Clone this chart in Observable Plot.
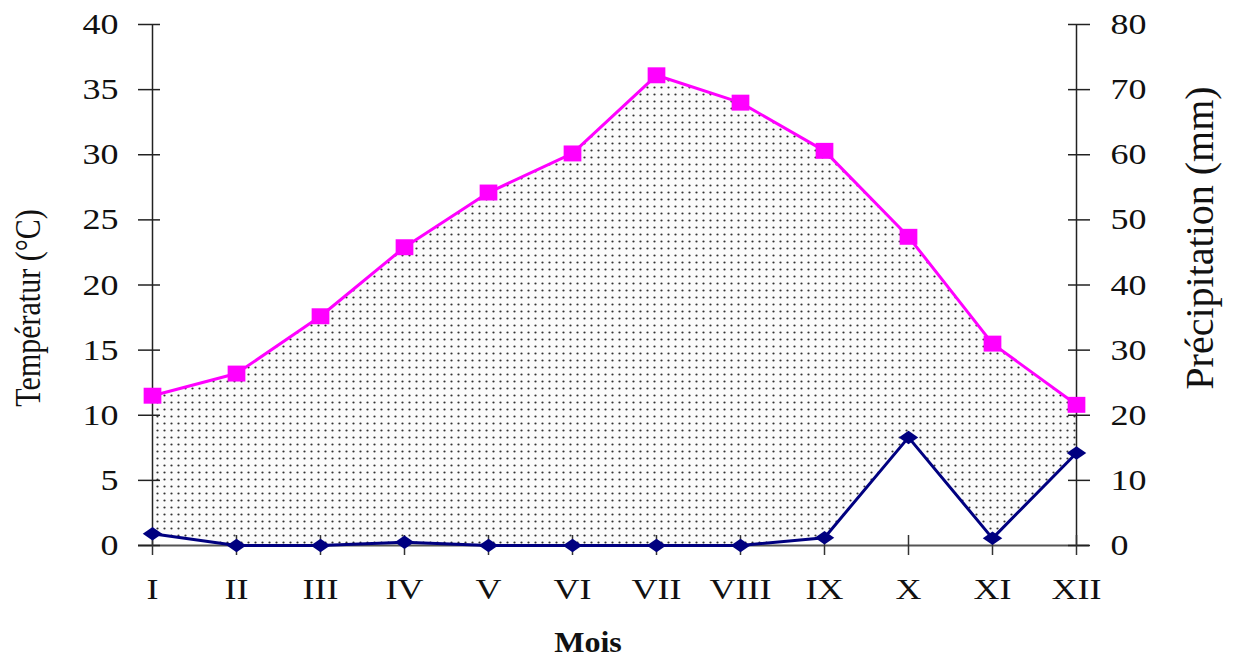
<!DOCTYPE html>
<html>
<head>
<meta charset="utf-8">
<script src="https://cdn.jsdelivr.net/npm/d3@7"></script>
<script src="https://cdn.jsdelivr.net/npm/@observablehq/plot@0.6"></script>
<style>
  html, body { margin: 0; padding: 0; background: #fff; }
</style>
</head>
<body>
<div id="chart"></div>
<script>
const months = ["I","II","III","IV","V","VI","VII","VIII","IX","X","XI","XII"];
const temperature = [11.5, 13.2, 17.6, 22.9, 27.1, 30.1, 36.1, 34.0, 30.3, 23.7, 15.5, 10.8];
const precipitation = [1.8, 0, 0, 0.5, 0, 0, 0, 0, 1.2, 16.6, 1.1, 14.2];
const tempTicks = [0, 5, 10, 15, 20, 25, 30, 35, 40];
const yLabelLeft = "Températur (°C)";
const yLabelRight = "Précipitation (mm)";
const xLabel = "Mois";

const data = months.map((m, i) => ({ m, t: temperature[i], p: precipitation[i] }));

const diamond = {
  draw(ctx, size) {
    const s = Math.sqrt(size);
    const w = s * 0.55, h = s * 0.38;
    ctx.moveTo(-w, 0); ctx.lineTo(0, -h); ctx.lineTo(w, 0); ctx.lineTo(0, h); ctx.closePath();
  }
};
const rectSym = {
  draw(ctx, size) {
    const s = Math.sqrt(size);
    const w = s * 0.5, h = s * 0.45;
    ctx.rect(-w, -h, 2 * w, 2 * h);
  }
};

const chart = Plot.plot({
  width: 1241,
  height: 660,
  marginLeft: 149,
  marginRight: 163,
  marginTop: 24,
  marginBottom: 115,
  style: { fontFamily: "'Liberation Serif', 'Times New Roman', serif", fontSize: "30px", color: "#111", background: "#fff" },
  x: { type: "point", domain: months, padding: 0 },
  y: { domain: [0, 40] },
  marks: [
    Plot.areaY(data, { x: "m", y1: d => d.p / 2, y2: "t", fill: "url(#dots)", fillOpacity: 1 }),
    Plot.ruleX([months[0], months[months.length - 1]], { y1: 0, y2: 40, stroke: "#222", strokeWidth: 1.5 }),
    Plot.ruleY([0], { stroke: "#555", strokeWidth: 2, insetLeft: -11, insetRight: -11 }),
    Plot.axisY({ anchor: "left", ticks: tempTicks, tickSize: 11, tickPadding: 20, label: null, stroke: "#222", strokeWidth: 1.5 }),
    Plot.axisY({ anchor: "left", ticks: tempTicks, tickSize: 11, dx: 11, tickFormat: () => "", label: null, stroke: "#222", strokeWidth: 1.5 }),
    Plot.axisY({ anchor: "right", ticks: tempTicks, tickSize: 11, tickPadding: 21, tickFormat: d => String(d * 2), label: null, stroke: "#222", strokeWidth: 1.5 }),
    Plot.axisY({ anchor: "right", ticks: tempTicks, tickSize: 11, dx: -11, tickFormat: () => "", label: null, stroke: "#222", strokeWidth: 1.5 }),
    Plot.axisX({ anchor: "bottom", tickSize: 10, tickPadding: 22, label: null, stroke: "#333", strokeWidth: 1.5 }),
    Plot.axisX({ anchor: "bottom", tickSize: 10, dy: -10, tickFormat: () => "", label: null, stroke: "#333", strokeWidth: 1.5 }),
    Plot.line(data, { x: "m", y: "t", stroke: "#ff00ff", strokeWidth: 3 }),
    Plot.line(data, { x: "m", y: d => d.p / 2, stroke: "#000080", strokeWidth: 3 }),
    Plot.dot(data, { x: "m", y: "t", symbol: rectSym, r: 10, fill: "#ff00ff", stroke: "none" }),
    Plot.dot(data, { x: "m", y: d => d.p / 2, symbol: diamond, r: 10, fill: "#000080", stroke: "none" })
  ]
});

const svg = d3.select(chart);
const defs = svg.insert("defs", ":first-child");
const pat = defs.append("pattern")
  .attr("id", "dots").attr("patternUnits", "userSpaceOnUse")
  .attr("width", 7).attr("height", 7);
pat.append("rect").attr("width", 7).attr("height", 7).attr("fill", "#fbfbfb");
pat.append("circle").attr("cx", 3.5).attr("cy", 3.5).attr("r", 1.1).attr("fill", "#333");

// horizontally stretch tick labels like the reference (scale about each label's anchor)
svg.selectAll("text").each(function () {
  const t = this.getAttribute("transform");
  if (t) this.setAttribute("transform", t + " scale(1.2,1)");
});

svg.append("text")
  .attr("transform", "translate(40,308) scale(1.2,1) rotate(-90)")
  .attr("text-anchor", "middle")
  .attr("font-family", "'Liberation Serif', 'Times New Roman', serif")
  .attr("font-size", 30).attr("fill", "#111")
  .text(yLabelLeft);

svg.append("text")
  .attr("transform", "translate(1213,238) rotate(-90)")
  .attr("text-anchor", "middle")
  .attr("font-family", "'Liberation Serif', 'Times New Roman', serif")
  .attr("font-size", 40).attr("fill", "#111")
  .text(yLabelRight);

svg.append("text")
  .attr("transform", "translate(588,652) scale(1.07,1)")
  .attr("text-anchor", "middle")
  .attr("font-family", "'Liberation Serif', 'Times New Roman', serif")
  .attr("font-weight", "bold")
  .attr("font-size", 30).attr("fill", "#111")
  .text(xLabel);

document.getElementById("chart").appendChild(chart);
</script>
</body>
</html>
